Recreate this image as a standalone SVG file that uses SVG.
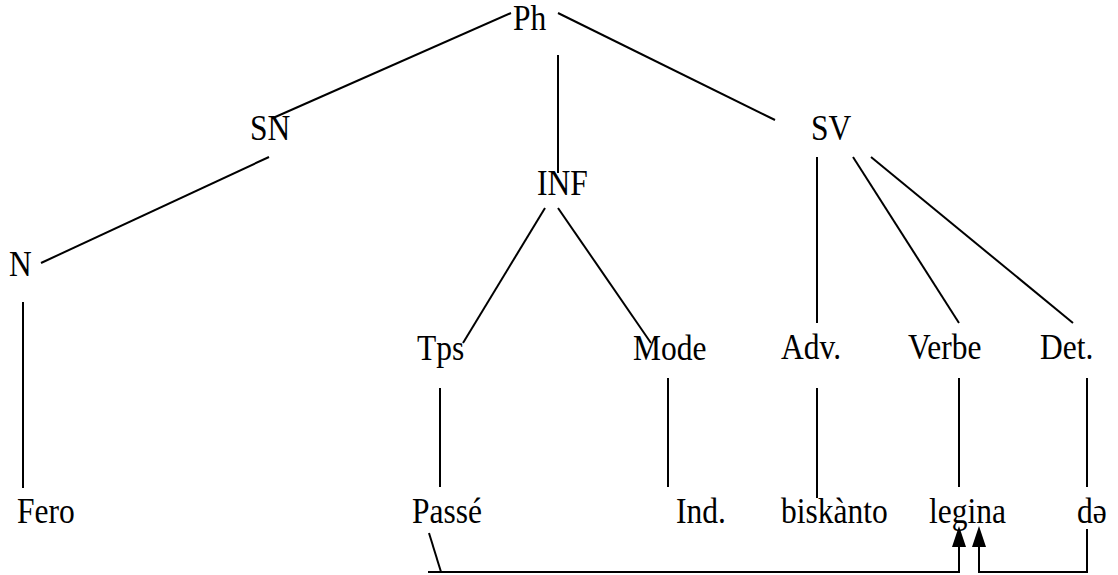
<svg xmlns="http://www.w3.org/2000/svg" width="1118" height="575" viewBox="0 0 1118 575">
<style>
text{font-family:"Liberation Serif","Times New Roman",serif;font-size:35px;fill:#000}
.e{stroke:#000;stroke-width:2;fill:none}
.ah{fill:#000}
</style>
<rect width="1118" height="575" fill="#fff"/>
<g id="connectors">
<line class="e" x1="511" y1="13" x2="273" y2="118"/>
<line class="e" x1="558" y1="55" x2="558" y2="173"/>
<line class="e" x1="558" y1="13" x2="775" y2="120"/>
<line class="e" x1="269" y1="157" x2="41" y2="263"/>
<line class="e" x1="23" y1="302" x2="23" y2="488"/>
<line class="e" x1="545" y1="208" x2="463" y2="343"/>
<line class="e" x1="558" y1="208" x2="651" y2="343"/>
<line class="e" x1="817" y1="157" x2="817" y2="323"/>
<line class="e" x1="853" y1="157" x2="959" y2="323"/>
<line class="e" x1="871" y1="157" x2="1073" y2="323"/>
<line class="e" x1="440" y1="388" x2="440" y2="487"/>
<line class="e" x1="668" y1="378" x2="668" y2="487"/>
<line class="e" x1="817" y1="388" x2="817" y2="498"/>
<line class="e" x1="959" y1="378" x2="959" y2="487"/>
<line class="e" x1="1087" y1="378" x2="1087" y2="487"/>
<line class="e" x1="429" y1="533" x2="441" y2="572"/>
<path class="e" d="M428,572 H959 V545"/>
<path class="e" d="M1087,529 V572 H979 V545"/>
<path class="ah" d="M959,526 L966,547 L952,547 Z"/>
<path class="ah" d="M979,526 L986,547 L972,547 Z"/>
</g>
<g id="Ph"><text transform="translate(513,30) scale(0.9,1)">Ph</text></g>
<g id="SN"><text transform="translate(250,140) scale(0.9,1)">SN</text></g>
<g id="INF"><text transform="translate(537,195) scale(0.9,1)">INF</text></g>
<g id="SV"><text transform="translate(811,140) scale(0.9,1)">SV</text></g>
<g id="N"><text transform="translate(9,276) scale(0.9,1)">N</text></g>
<g id="Tps"><text transform="translate(417,360) scale(0.9,1)">Tps</text></g>
<g id="Mode"><text transform="translate(633,360) scale(0.9,1)">Mode</text></g>
<g id="Adv"><text transform="translate(781,359) scale(0.9,1)">Adv.</text></g>
<g id="Verbe"><text transform="translate(908,359) scale(0.9,1)">Verbe</text></g>
<g id="Det"><text transform="translate(1040,359) scale(0.9,1)">Det.</text></g>
<g id="Fero"><text transform="translate(17,523) scale(0.9,1)">Fero</text></g>
<g id="Passe"><text transform="translate(412,523) scale(0.9,1)">Passé</text></g>
<g id="Ind"><text transform="translate(676,523) scale(0.9,1)">Ind.</text></g>
<g id="biskanto"><text transform="translate(781,523) scale(0.9,1)">biskànto</text></g>
<g id="legina"><text transform="translate(929,523) scale(0.9,1)">legina</text></g>
<g id="de"><text transform="translate(1077,523) scale(0.9,1)">də</text></g>
</svg>
